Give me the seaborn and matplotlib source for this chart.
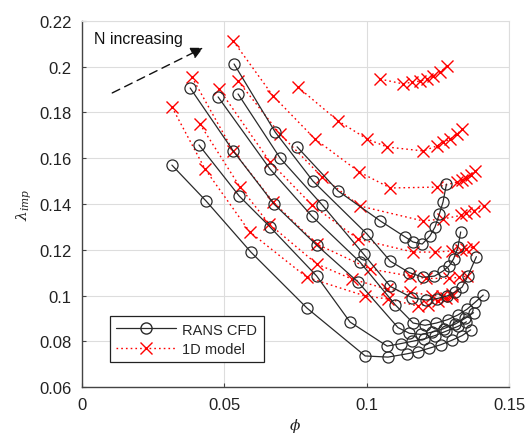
import matplotlib
matplotlib.use("Agg")
import matplotlib.pyplot as plt
from matplotlib.lines import Line2D
import numpy as np
import pandas as pd
import seaborn as sns

# RANS CFD speedlines (flow coefficient phi, impeller loss lambda_imp)
cfd_phi = {
    "a": [0.0317, 0.0437, 0.0594, 0.0791, 0.0995, 0.1075, 0.1140, 0.1180, 0.1220, 0.1260, 0.1300, 0.1335, 0.1365],
    "b": [0.0412, 0.0553, 0.0661, 0.0825, 0.0942, 0.1072, 0.1120, 0.1160, 0.1200, 0.1240, 0.1280, 0.1320, 0.1350],
    "c": [0.0381, 0.0532, 0.0675, 0.0825, 0.0970, 0.1110, 0.1150, 0.1190, 0.1230, 0.1270, 0.1310, 0.1345, 0.1375],
    "d": [0.0479, 0.0661, 0.0808, 0.0977, 0.1100, 0.1163, 0.1205, 0.1245, 0.1285, 0.1320, 0.1352, 0.1380, 0.1409],
    "e": [0.0549, 0.0697, 0.0844, 0.0990, 0.1083, 0.1160, 0.1210, 0.1248, 0.1282, 0.1310, 0.1335, 0.1355, 0.1385],
    "f": [0.0535, 0.0679, 0.0812, 0.1001, 0.1083, 0.1150, 0.1198, 0.1238, 0.1268, 0.1290, 0.1305, 0.1320, 0.1330],
    "g": [0.0756, 0.0900, 0.1048, 0.1135, 0.1163, 0.1195, 0.1222, 0.1240, 0.1255, 0.1268, 0.1280],
}
cfd_lam = {
    "a": [0.157, 0.1413, 0.119, 0.0945, 0.0736, 0.0731, 0.0745, 0.0755, 0.0770, 0.0785, 0.0805, 0.0825, 0.0850],
    "b": [0.1658, 0.1435, 0.130, 0.1085, 0.0884, 0.0779, 0.0790, 0.0800, 0.0810, 0.0825, 0.0845, 0.0865, 0.0885],
    "c": [0.1907, 0.1632, 0.140, 0.122, 0.1059, 0.0860, 0.0835, 0.0830, 0.0840, 0.0855, 0.0875, 0.0900, 0.0925],
    "d": [0.1868, 0.1553, 0.1347, 0.1146, 0.0960, 0.0880, 0.0870, 0.0880, 0.0895, 0.0915, 0.0940, 0.0970, 0.1002],
    "e": [0.1881, 0.1600, 0.1396, 0.1180, 0.1040, 0.0990, 0.0980, 0.0987, 0.0998, 0.1015, 0.1037, 0.1085, 0.1170],
    "f": [0.2012, 0.1715, 0.1500, 0.1269, 0.1150, 0.1100, 0.1080, 0.1085, 0.1107, 0.1130, 0.1160, 0.1210, 0.1278],
    "g": [0.1650, 0.1457, 0.1326, 0.1256, 0.1234, 0.1225, 0.1260, 0.1300, 0.1356, 0.1409, 0.1487],
}

# 1D model speedlines
model_phi = {
    "t": [0.0317, 0.0433, 0.0590, 0.0790, 0.0995, 0.1075, 0.1180, 0.1215, 0.1250, 0.1280, 0.1300],
    "u": [0.0415, 0.0556, 0.0658, 0.0825, 0.0949, 0.1072, 0.1153, 0.1230, 0.1265, 0.1300],
    "w": [0.0387, 0.0532, 0.0672, 0.0825, 0.1012, 0.1153, 0.1210, 0.1290, 0.1325, 0.1352],
    "v": [0.0482, 0.0661, 0.0808, 0.0970, 0.1163, 0.1240, 0.1300, 0.1330, 0.1350, 0.1373],
    "x": [0.0532, 0.0672, 0.0819, 0.0974, 0.1083, 0.1247, 0.1318, 0.1335, 0.1350, 0.1365, 0.1380],
    "y": [0.0549, 0.0696, 0.0844, 0.0977, 0.1198, 0.1268, 0.1330, 0.1350, 0.1375, 0.1410],
    "z": [0.0759, 0.0900, 0.1002, 0.1072, 0.1198, 0.1247, 0.1268, 0.1293, 0.1318, 0.1335],
    "top": [0.1047, 0.1128, 0.1160, 0.1187, 0.1212, 0.1233, 0.1258, 0.1282],
}
model_lam = {
    "t": [0.1824, 0.1553, 0.1278, 0.1080, 0.0998, 0.0985, 0.0954, 0.0960, 0.0975, 0.0990, 0.1000],
    "u": [0.1750, 0.1474, 0.1313, 0.1138, 0.1072, 0.1028, 0.1015, 0.1000, 0.1000, 0.1007],
    "w": [0.1955, 0.1632, 0.1409, 0.1225, 0.1116, 0.1085, 0.1075, 0.1075, 0.1080, 0.1085],
    "v": [0.1903, 0.1584, 0.1396, 0.1247, 0.1190, 0.1190, 0.1195, 0.1200, 0.1205, 0.1212],
    "x": [0.2113, 0.1872, 0.1684, 0.1540, 0.1470, 0.1474, 0.1496, 0.1505, 0.1515, 0.1528, 0.1544],
    "y": [0.1938, 0.1706, 0.1518, 0.1391, 0.1326, 0.1335, 0.1350, 0.1360, 0.1370, 0.1391],
    "z": [0.1911, 0.1763, 0.1684, 0.1649, 0.1632, 0.1654, 0.1670, 0.1684, 0.1706, 0.1728],
    "top": [0.1946, 0.1925, 0.1933, 0.1937, 0.1946, 0.1959, 0.1976, 0.2003],
}

x_ticks = [0, 0.05, 0.1, 0.15]
x_tick_labels = ["0", "0.05", "0.1", "0.15"]
y_ticks = [0.06, 0.08, 0.1, 0.12, 0.14, 0.16, 0.18, 0.2, 0.22]
y_tick_labels = ["0.06", "0.08", "0.1", "0.12", "0.14", "0.16", "0.18", "0.2", "0.22"]


def long_table(phi, lam):
    rows = []
    for key in phi:
        for p, l in zip(phi[key], lam[key]):
            rows.append((key, p, l))
    return pd.DataFrame(rows, columns=["line", "phi", "lam"])


cfd = long_table(cfd_phi, cfd_lam)
model = long_table(model_phi, model_lam)

sns.set_theme(style="whitegrid")
plt.rcParams["font.family"] = ["Liberation Sans", "DejaVu Sans"]
plt.rcParams["mathtext.fontset"] = "dejavuserif"

fig = plt.figure(figsize=(5.26, 4.39), dpi=100)
ax = fig.add_axes([0.155, 0.116, 0.813, 0.834])

dotted = (0, (1.2, 2.2))
sns.lineplot(data=model, x="phi", y="lam", units="line", estimator=None, sort=False,
             color="red", linestyle=dotted, linewidth=1.0, marker="x", markersize=8,
             markeredgewidth=1.0, markeredgecolor="red", ax=ax, legend=False, zorder=2)
sns.lineplot(data=cfd, x="phi", y="lam", units="line", estimator=None, sort=False,
             color="#2a2a2a", linestyle="-", linewidth=0.9, marker="o", markersize=8,
             markerfacecolor="none", markeredgecolor="#2a2a2a", markeredgewidth=0.9,
             ax=ax, legend=False, zorder=3)

ax.set_xlim(0, 0.15)
ax.set_ylim(0.06, 0.22)
ax.set_xticks(x_ticks)
ax.set_xticklabels(x_tick_labels)
ax.set_yticks(y_ticks)
ax.set_yticklabels(y_tick_labels)
ax.grid(True, color="#dddddd", linewidth=0.8)
ax.set_facecolor("white")
for side in ["top", "right"]:
    ax.spines[side].set_color("#dddddd")
    ax.spines[side].set_linewidth(0.8)
for side in ["left", "bottom"]:
    ax.spines[side].set_color("#444444")
    ax.spines[side].set_linewidth(1.0)
ax.tick_params(axis="both", direction="in", length=3, width=0.8, color="#444444",
               labelsize=12, colors="#222222", pad=7, left=True, bottom=True)
ax.set_xlabel(r"$\phi$", fontsize=11, color="#222222", labelpad=3)
ax.set_ylabel(r"$\lambda_{imp}$", fontsize=11, color="#222222", labelpad=4)

ax.text(0.0042, 0.2125, "N increasing", fontsize=11.5, color="#111111", va="center")
ax.annotate("", xy=(0.0435, 0.2088), xytext=(0.0099, 0.188),
            arrowprops=dict(arrowstyle="-|>", linestyle=(0, (6, 4)), color="#111111",
                            linewidth=1.0, mutation_scale=18))

handles = [
    Line2D([], [], color="#2a2a2a", linestyle="-", linewidth=0.9, marker="o",
           markersize=8, markerfacecolor="none", markeredgecolor="#2a2a2a"),
    Line2D([], [], color="red", linestyle=dotted, linewidth=1.0, marker="x",
           markersize=8, markeredgecolor="red"),
]
leg = ax.legend(handles, ["RANS CFD", "1D model"], loc="lower left",
                bbox_to_anchor=(0.066, 0.068), borderaxespad=0, fontsize=10.5,
                frameon=True, fancybox=False, edgecolor="#222222", framealpha=1.0,
                handlelength=4.1, handletextpad=0.4, borderpad=0.45, labelspacing=0.35)
leg.get_frame().set_linewidth(0.9)

fig.savefig("out.png", dpi=100)
